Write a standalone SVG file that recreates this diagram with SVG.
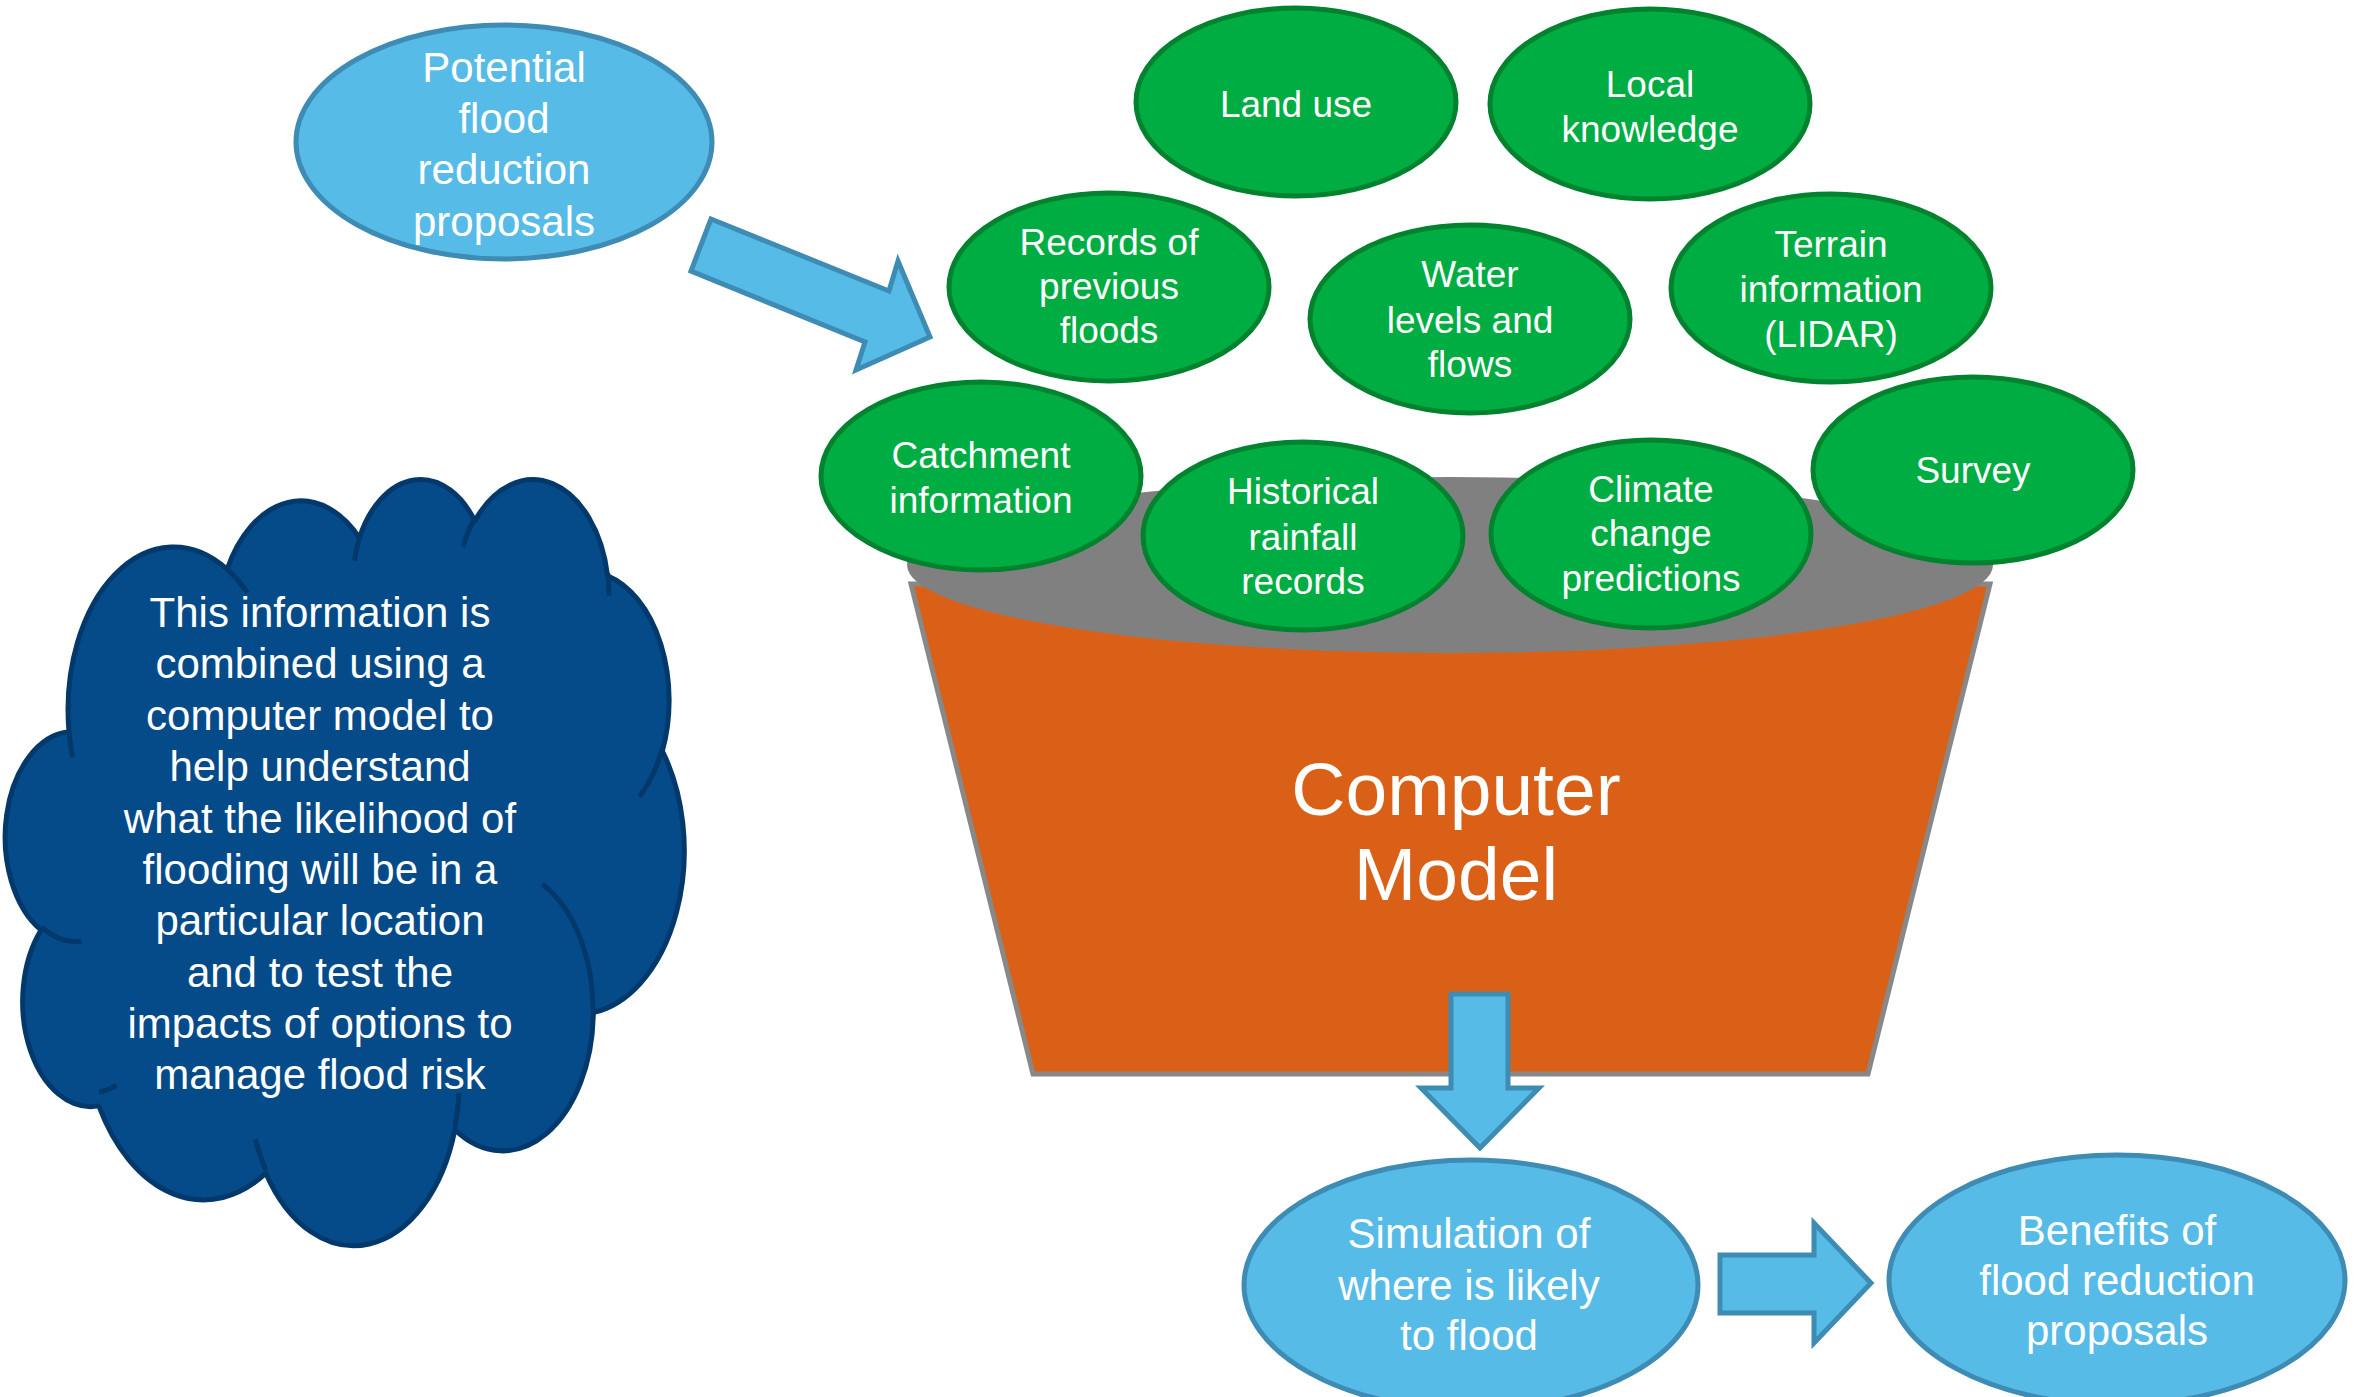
<svg xmlns="http://www.w3.org/2000/svg" width="2356" height="1397" viewBox="0 0 2356 1397">
  <style>
    .blue { fill: #57BBE7; stroke: #3E8BB3; stroke-width: 5; }
    .green { fill: #00AD43; stroke: #00822F; stroke-width: 5; }
    .arrow { fill: #57BBE7; stroke: #3E8BB3; stroke-width: 5; stroke-linejoin: miter; }
    text { font-family: "Liberation Sans", Arial, sans-serif; fill: #FFFFFF; text-anchor: middle; }
    .g { font-size: 37px; }
    .b { font-size: 42px; }
    .c { font-size: 42px; }
    .big { font-size: 75px; }
  </style>

  <!-- Potential proposals (input) -->
  <g id="node-potential">
    <ellipse class="blue" cx="504" cy="142" rx="208" ry="117"/>
    <text class="b" x="504" y="82">Potential</text>
    <text class="b" x="504" y="133">flood</text>
    <text class="b" x="504" y="184">reduction</text>
    <text class="b" x="504" y="236">proposals</text>
  </g>

  <!-- Explanatory cloud -->
  <g id="node-cloud">
    <g transform="translate(8,477) scale(0.015648,0.017731)">
      <path fill="#064B89" stroke="#03386B" stroke-width="5" vector-effect="non-scaling-stroke" stroke-linejoin="round"
        d="M 3900 14370 A 6753 9190 0 0 1 14005 5202 A 5333 7267 0 0 1 22456 3431 A 4365 5945 0 0 1 29833 2480 A 4857 6595 0 0 1 38318 5575 A 5333 7273 0 0 1 41818 15459 A 6775 9220 0 0 1 37404 30202 A 5785 7867 0 0 1 28556 36812 A 6752 9215 0 0 1 16480 39263 A 7720 10543 0 0 1 5805 35469 A 4360 5918 0 0 1 2113 25547 A 4345 5945 0 0 1 3900 14370 Z"/>
      <path fill="none" stroke="#03386B" stroke-width="5" vector-effect="non-scaling-stroke"
        d="M 4693 26177 A 4345 5945 0 0 1 2160 25381 M 6928 34315 A 4360 5918 0 0 1 5819 34697 M 16478 39090 A 6752 9215 0 0 1 15810 37351 M 28827 34751 A 6752 9215 0 0 1 28560 36660 M 34129 22954 A 5785 7867 0 0 1 37380 30090 M 41798 15354 A 5333 7273 0 0 1 40350 18030 M 38324 5426 A 4857 6595 0 0 1 38400 6690 M 29078 3952 A 4857 6595 0 0 1 29820 2340 M 22141 4720 A 4365 5945 0 0 1 22500 3330 M 14000 5192 A 6753 9190 0 0 1 15300 6541 M 4127 15789 A 6753 9190 0 0 1 3900 14370"/>
    </g>
    <text class="c" x="320" y="627">This information is</text>
    <text class="c" x="320" y="678">combined using a</text>
    <text class="c" x="320" y="730">computer model to</text>
    <text class="c" x="320" y="781">help understand</text>
    <text class="c" x="320" y="833">what the likelihood of</text>
    <text class="c" x="320" y="884">flooding will be in a</text>
    <text class="c" x="320" y="935">particular location</text>
    <text class="c" x="320" y="987">and to test the</text>
    <text class="c" x="320" y="1038">impacts of options to</text>
    <text class="c" x="320" y="1089">manage flood risk</text>
  </g>

  <!-- Computer model bucket -->
  <g id="node-model">
    <polygon points="911,584 1990,584 1868,1074 1033,1074" fill="#D96016" stroke="#888888" stroke-width="5"/>
    <ellipse cx="1450" cy="565" rx="543" ry="88" fill="#808080"/>
    <text class="big" x="1456" y="815">Computer</text>
    <text class="big" x="1456" y="900">Model</text>
  </g>

  <!-- Data inputs -->
  <g id="node-land-use">
    <ellipse class="green" cx="1296" cy="102" rx="160" ry="94"/>
    <text class="g" x="1296" y="117">Land use</text>
  </g>
  <g id="node-local-knowledge">
    <ellipse class="green" cx="1650" cy="104" rx="160" ry="95"/>
    <text class="g" x="1650" y="97">Local</text>
    <text class="g" x="1650" y="142">knowledge</text>
  </g>
  <g id="node-records">
    <ellipse class="green" cx="1109" cy="287" rx="160" ry="94"/>
    <text class="g" x="1109" y="255">Records of</text>
    <text class="g" x="1109" y="299">previous</text>
    <text class="g" x="1109" y="343">floods</text>
  </g>
  <g id="node-water-levels">
    <ellipse class="green" cx="1470" cy="319" rx="160" ry="94"/>
    <text class="g" x="1470" y="287">Water</text>
    <text class="g" x="1470" y="333">levels and</text>
    <text class="g" x="1470" y="377">flows</text>
  </g>
  <g id="node-terrain">
    <ellipse class="green" cx="1831" cy="288" rx="160" ry="94"/>
    <text class="g" x="1831" y="257">Terrain</text>
    <text class="g" x="1831" y="302">information</text>
    <text class="g" x="1831" y="347">(LIDAR)</text>
  </g>
  <g id="node-catchment">
    <ellipse class="green" cx="981" cy="476" rx="160" ry="94"/>
    <text class="g" x="981" y="468">Catchment</text>
    <text class="g" x="981" y="513">information</text>
  </g>
  <g id="node-historical">
    <ellipse class="green" cx="1303" cy="536" rx="160" ry="94"/>
    <text class="g" x="1303" y="504">Historical</text>
    <text class="g" x="1303" y="550">rainfall</text>
    <text class="g" x="1303" y="594">records</text>
  </g>
  <g id="node-climate">
    <ellipse class="green" cx="1651" cy="534" rx="160" ry="94"/>
    <text class="g" x="1651" y="502">Climate</text>
    <text class="g" x="1651" y="546">change</text>
    <text class="g" x="1651" y="591">predictions</text>
  </g>
  <g id="node-survey">
    <ellipse class="green" cx="1973" cy="470" rx="160" ry="93"/>
    <text class="g" x="1973" y="483">Survey</text>
  </g>

  <!-- Outputs -->
  <g id="node-simulation">
    <ellipse class="blue" cx="1471" cy="1285" rx="227" ry="125"/>
    <text class="b" x="1469" y="1248">Simulation of</text>
    <text class="b" x="1469" y="1300">where is likely</text>
    <text class="b" x="1469" y="1350">to flood</text>
  </g>
  <g id="node-benefits">
    <ellipse class="blue" cx="2117" cy="1280" rx="228" ry="125"/>
    <text class="b" x="2117" y="1245">Benefits of</text>
    <text class="b" x="2117" y="1295">flood reduction</text>
    <text class="b" x="2117" y="1345">proposals</text>
  </g>

  <!-- Block arrows -->
  <g id="connectors">
    <polygon class="arrow" points="711,219 889,291 898,261 930,337 856,370 865,342 691,271"/>
    <polygon class="arrow" points="1451,994 1508,994 1508,1088 1539,1088 1480,1148 1421,1088 1451,1088"/>
    <polygon class="arrow" points="1720,1255 1814,1255 1814,1223 1871,1283 1814,1343 1814,1313 1720,1313"/>
  </g>
</svg>
